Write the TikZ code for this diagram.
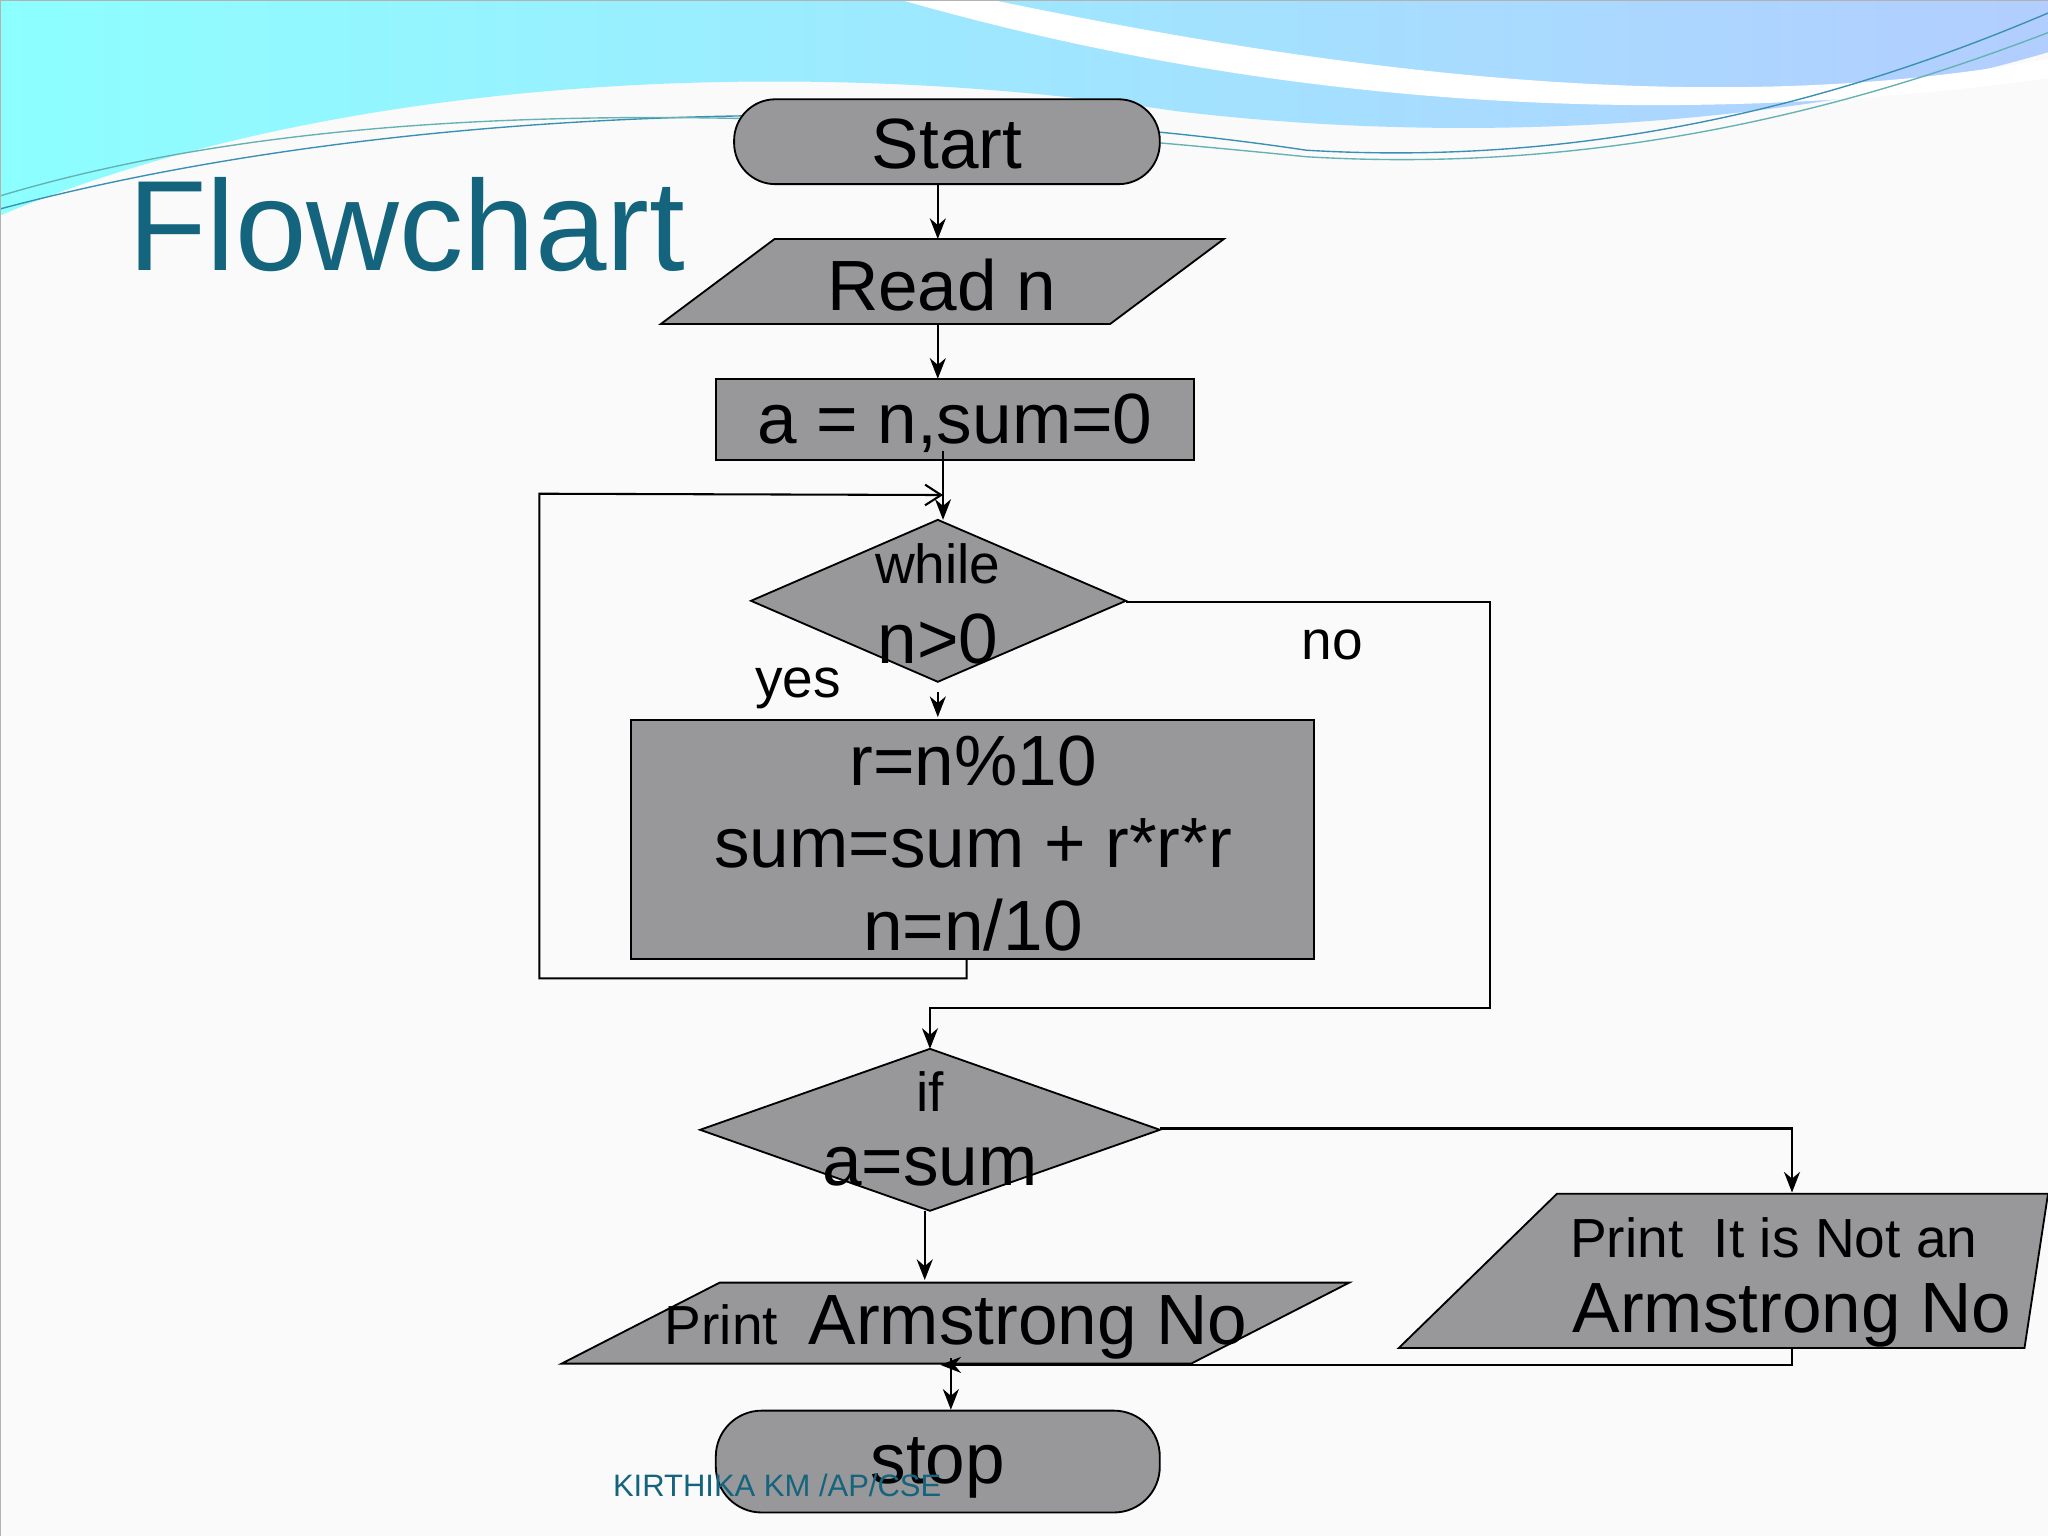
\documentclass[tikz,border=0pt]{standalone}
\usepackage{fontspec}
\setmainfont{Liberation Sans}
\usetikzlibrary{arrows.meta,shapes.geometric}
\definecolor{teal1}{RGB}{20,100,125}
\definecolor{boxg}{RGB}{152,151,153}
\begin{document}
\begin{tikzpicture}[x=0.02cm,y=-0.02cm,
 shp/.style={draw=black,fill=boxg,line width=0.8pt},
 con/.style={draw=black,line width=0.9pt},
 arr/.style={con,-{Stealth[length=9pt,width=7pt]}},
 big/.style={font=\fontsize{31}{40}\selectfont},
 mid/.style={font=\fontsize{24}{30}\selectfont}]
\useasboundingbox (0,0) rectangle (1568,1176);
\fill[gray!4] (0,0) rectangle (1568,1176);
% waves
\shade[left color=cyan!45!white,right color=cyan!35!blue!30!white] (0,0) -- (0,165) .. controls (250,60) and (600,40) .. (900,85) .. controls (1150,115) and (1400,90) .. (1568,40) -- (1568,0) -- cycle;
\fill[white] (690,0) .. controls (900,60) and (1200,110) .. (1568,60) -- (1568,45) .. controls (1300,95) and (1000,50) .. (760,0) -- cycle;
\draw[cyan!70!black,line width=0.6pt] (0,160) .. controls (300,80) and (700,70) .. (1000,115) .. controls (1250,130) and (1450,60) .. (1568,10);
\draw[teal!60,line width=0.6pt] (0,150) .. controls (300,60) and (700,90) .. (1000,120) .. controls (1250,135) and (1450,70) .. (1568,25);
\draw[gray!60] (0,0) rectangle (1568,1176);
% title
\node[anchor=west,text=teal1,font=\fontsize{56}{60}\selectfont] (title) at (92,172) {Flowchart};
% shapes
\node[shp,rounded corners=18pt,minimum width=6.52cm,minimum height=1.3cm] (startb) at (725,108.5) {};
\node[big] (start) at (725,110) {Start};
\draw[shp] (593,183) -- (937,183) -- (850,248) -- (506,248) -- cycle;
\node[big] (read) at (721,218) {Read n};
\draw[shp] (548,290) rectangle (914,352);
\node[big] (init) at (731,324) {a = n,sum=0};
\draw[shp] (575,460) -- (718,398) -- (862,460) -- (718,522) -- cycle;
\node[mid] (wtxt) at (718,432) {while};
\node[big] (wcond) at (718,489) {n>0};
\draw[shp] (483,551) rectangle (1006,734);
\node[big] (b1) at (745,583) {r=n\%10};
\node[big] (b2) at (745,646) {sum=sum + r*r*r};
\node[big] (b3) at (745,708) {n=n/10};
\draw[shp] (536,865) -- (712,803) -- (888,865) -- (712,927) -- cycle;
\node[mid] (iftxt) at (712,836) {if};
\node[big] (ifcond) at (712,893) {a=sum};
\draw[shp] (551,982) -- (1033,982) -- (912,1044) -- (430,1044) -- cycle;
\node (pyes) at (732,1016) {\fontsize{24}{30}\selectfont Print\ \ \fontsize{31}{40}\selectfont Armstrong No};
\draw[shp] (1192,914) -- (1568,914) -- (1550,1032) -- (1071,1032) -- cycle;
\node[mid] (pno1) at (1358,948) {Print\ \ It is Not an};
\node[big] (pno2) at (1372,1007) {Armstrong No};
\node[shp,rounded corners=20pt,minimum width=6.8cm,minimum height=1.56cm] (stopb) at (718,1119) {};
\node[big] (stop) at (718,1124) {stop};
\node[text=teal1,font=\fontsize{13.5}{16}\selectfont] (foot) at (595,1137) {KIRTHIKA KM /AP/CSE};
% labels
\node[mid] (yes) at (611,527) {yes};
\node[mid] (no) at (1020,494) {no};
% connectors
\draw[arr] (startb.south -| 718,0) -- (718,183);
\draw[arr] (718,248) -- (718,290);
\draw[arr] (722,345) -- (722,398);
\draw[arr] (718,530) -- (718,549);
\draw[con,-{Straight Barb[length=7pt,width=9pt]}] (740,734) -- (740,749) -- (413,749) -- (413,378) -- (722,379);
\draw[arr] (862,461) -- (1141,461) -- (1141,772) -- (712,772) -- (712,803);
\draw[arr] (888,864) -- (1372,864) -- (1372,913);
\draw[arr] (708,927) -- (708,980);
\draw[arr] (1372,1032) -- (1372,1045) -- (720,1045);
\draw[arr] (728,1040) -- (stopb.north -| 728,0);
\end{tikzpicture}
\end{document}
